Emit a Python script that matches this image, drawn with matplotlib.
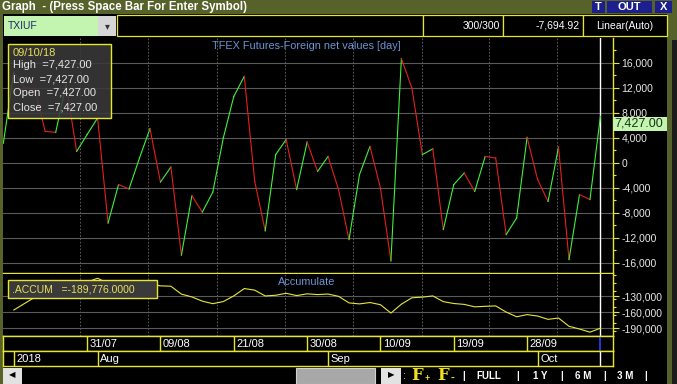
import matplotlib.pyplot as plt
from matplotlib.patches import Rectangle
from matplotlib.ticker import FuncFormatter, MultipleLocator
import numpy as np

plt.rcParams['font.family'] = ['Liberation Sans', 'DejaVu Sans']

# daily foreign net values (contracts), one per trading day
net = [3100, 14500, 12000, 11800, 5000, 4860, 12500, 1800, 4500, 7150,
       -9650, -3500, -4200, 750, 5450, -3100, -700, -14800, -5300, -7900,
       -4700, 3950, 10600, 13800, -3000, -10900, 1300, 3700, -4300, 3300,
       -1400, 1000, -4300, -12300, -1900, 2600, -4050, -15700, 16650, 11950,
       1300, 2200, -10700, -3500, -1650, -4600, 1000, 750, -11500, -8850,
       4050, -2700, -6200, 2500, -15500, -5100, -5900, 7427]

# accumulated value panel (starts on the second day)
accum = [np.nan, -155763, -143763, -131963, -126963, -122103, -109603, -107803,
         -103303, -96153, -105803, -109303, -113503, -112753, -107303, -110403,
         -111103, -125903, -131203, -139103, -143803, -139853, -129253, -115453,
         -118453, -129353, -128053, -124353, -128653, -125353, -126753, -125753,
         -130053, -142353, -144253, -141653, -145703, -161403, -144753, -132803,
         -131503, -129303, -140003, -143503, -145153, -149753, -148753, -148003,
         -159503, -168353, -164303, -167003, -173203, -170703, -186203, -191303,
         -197203, -189776]

date_labels = ["31/07", "09/08", "21/08", "30/08", "10/09", "19/09", "28/09"]
date_idx = [8, 15, 22, 29, 36, 43, 50]
month_labels = ["2018", "Aug", "Sep", "Oct"]
month_idx = [1, 9, 31, 51]
vgrid_idx = [7.3, 13.8, 20.4, 26.9, 33.4, 40.0, 46.4, 52.9]

main_ticks = [-16000, -12000, -8000, -4000, 0, 4000, 8000, 12000, 16000]
accum_ticks = [-190000, -160000, -130000]

W, H = 677, 384
YEL = '#e6e632'
OLIVE = '#56622a'
UP, DOWN = '#3ef23a', '#e4201c'
GRID = '#5a5a5a'


def rect(x0, y0, x1, y1):
    return [x0 / W, 1 - y1 / H, (x1 - x0) / W, (y1 - y0) / H]


def box(ax, x0, y0, x1, y1, fc, ec=None, lw=1, alpha=1, z=1):
    ax.add_patch(Rectangle((x0, y0), x1 - x0, y1 - y0, facecolor=fc,
                           edgecolor=ec if ec else 'none', lw=lw, alpha=alpha, zorder=z))


comma = FuncFormatter(lambda v, p: '{:,.0f}'.format(v))

fig = plt.figure(figsize=(W / 100, H / 100), dpi=100, facecolor='black')

# window chrome behind everything
bg = fig.add_axes([0, 0, 1, 1], zorder=-5)
bg.set_xlim(0, W)
bg.set_ylim(H, 0)
bg.axis('off')
box(bg, 0, 0, W, 14, OLIVE)
box(bg, 0, 14, 3, H, OLIVE)
box(bg, 667, 14, W, H, OLIVE)
box(bg, 672, 40, W, H, '#1c1c1c')
bg.text(2, 7, "Graph  - (Press Space Bar For Enter Symbol)", color='white',
        fontsize=8.3, fontweight='bold', va='center')
for x0, x1, t in [(592, 605, "T"), (607, 652, "OUT"), (655, 672, "X")]:
    box(bg, x0, 1, x1, 13, '#1d1f8e')
    bg.text((x0 + x1) / 2, 7, t, color='white', fontsize=8, fontweight='bold',
            ha='center', va='center')
box(bg, 4, 16, 98, 36, '#c4f5b0')
box(bg, 98, 16, 116, 36, '#d6d6d6')
bg.text(8, 26, "TXIUF", color='#1d2a6a', fontsize=7.5, va='center')
bg.text(107, 26, "\u25be", color='#333333', fontsize=7, ha='center', va='center')
for x0, x1 in [(117, 423), (423, 503), (503, 583), (583, 667)]:
    box(bg, x0, 15, x1, 36, 'black', YEL, lw=0.9)
bg.text(500, 26, "300/300", color='white', fontsize=7.5, ha='right', va='center')
bg.text(580, 26, "-7,694.92", color='white', fontsize=7.5, ha='right', va='center')
bg.text(625, 26, "Linear(Auto)", color='white', fontsize=7.5, ha='center', va='center')
# scroll bar row
box(bg, 3, 368, 22, 384, '#e2e2e2')
bg.text(12, 376, "\u25c0", color='black', fontsize=6, ha='center', va='center')
box(bg, 296, 368, 375, 384, '#a8a8a8', '#d0d0d0', lw=0.8)
box(bg, 381, 368, 401, 384, '#e2e2e2')
bg.text(391, 376, "\u25b6", color='black', fontsize=6, ha='center', va='center')
bg.text(405, 376, ":", color='#d8d8a0', fontsize=8, ha='center', va='center')
bg.text(411, 376, "F", color='#f0e020', fontsize=12, fontweight='bold',
        family='DejaVu Serif', va='center')
bg.text(425, 379, "+", color='#f0e020', fontsize=6.5, fontweight='bold', va='center')
bg.text(437, 376, "F", color='#f0e020', fontsize=12, fontweight='bold',
        family='DejaVu Serif', va='center')
bg.text(451, 378, "-", color='#f0e020', fontsize=8, fontweight='bold', va='center')
for xx, t in [(464, "|"), (489, "FULL"), (518, "|"), (540, "1 Y"), (562, "|"),
              (583, "6 M"), (605, "|"), (625, "3 M"), (646, "|")]:
    bg.text(xx, 376, t, color='white', fontsize=7, fontweight='bold',
            ha='center', va='center')

XL = (-0.03, 58.2)
x = np.arange(len(net))

# main panel
ax = fig.add_axes(rect(3, 38, 613, 273))
ax.set_facecolor('black')
ax.set_xlim(*XL)
ax.set_ylim(-17650, 19950)
for i in range(len(net) - 1):
    c = UP if net[i + 1] >= net[i] else DOWN
    ax.plot(x[i:i + 2], net[i:i + 2], color=c, lw=0.8, zorder=3)
ax.axvline(57, color='white', lw=1, zorder=2)
ax.set_yticks(main_ticks)
ax.yaxis.set_major_formatter(comma)
ax.yaxis.set_minor_locator(MultipleLocator(2000))
ax.set_xticks(vgrid_idx)
ax.yaxis.grid(True, color=GRID, lw=0.8)
ax.xaxis.grid(True, color='#6a6a6a', lw=0.6, ls=(0, (2, 2)))
ax.text(0.498, 0.965, "TFEX Futures-Foreign net values [day]", color='#6b95d6',
        fontsize=7.8, ha='center', va='center', transform=ax.transAxes)

# accumulate panel
ac = fig.add_axes(rect(3, 274, 613, 336))
ac.set_facecolor('black')
ac.set_xlim(*XL)
ac.set_ylim(-204400, -88200)
ac.plot(x, accum, color='#e8e63a', lw=0.8, zorder=3)
ac.axvline(57, color='white', lw=1, zorder=2)
ac.set_yticks(accum_ticks)
ac.yaxis.set_major_formatter(comma)
ac.yaxis.set_minor_locator(MultipleLocator(15000))
ac.set_xticks(vgrid_idx)
ac.yaxis.grid(True, color=GRID, lw=0.8)
ac.xaxis.grid(True, color='#6a6a6a', lw=0.6, ls=(0, (2, 2)))
ac.text(0.498, 0.87, "Accumulate", color='#6b95d6', fontsize=7.8,
        ha='center', va='center', transform=ac.transAxes)

for a in (ax, ac):
    a.yaxis.tick_right()
    a.tick_params(axis='y', which='major', length=4, width=0.8, color=YEL,
                  labelcolor='#e8e8e8', labelsize=7.5, pad=2)
    a.tick_params(axis='y', which='minor', length=2.5, width=0.8, color=YEL)
    a.tick_params(axis='x', length=0, labelbottom=False)
    for s in ('left', 'top'):
        a.spines[s].set_visible(False)
    for s in ('right', 'bottom'):
        a.spines[s].set_color(YEL)
        a.spines[s].set_linewidth(1)

# date row
dr = fig.add_axes(rect(3, 336, 613, 351))
dr.set_facecolor('black')
dr.set_xlim(*XL)
dr.set_ylim(0, 1)
for i, lab in zip(date_idx, date_labels):
    dr.axvline(i, color=YEL, lw=1)
    dr.text(i + 0.25, 0.45, lab, color='white', fontsize=8, va='center')
dr.axvline(57, color='#2a3cff', lw=1.2)

# month row
mr = fig.add_axes(rect(3, 351, 613, 366))
mr.set_facecolor('black')
mr.set_xlim(*XL)
mr.set_ylim(0, 1)
for i, lab in zip(month_idx, month_labels):
    mr.axvline(i, color=YEL, lw=1)
    mr.text(i + 0.25, 0.45, lab, color='white', fontsize=8, va='center')
mr.axvline(57, color='white', lw=1)

for a in (dr, mr):
    a.set_xticks([])
    a.set_yticks([])
    for s in a.spines.values():
        s.set_color(YEL)
        s.set_linewidth(1)

# foreground overlays: data windows and last value tag
fg = fig.add_axes([0, 0, 1, 1], zorder=10)
fg.set_xlim(0, W)
fg.set_ylim(H, 0)
fg.axis('off')
box(fg, 8, 44, 111, 118, '#3a3a3a', alpha=0.88)
box(fg, 8, 44, 111, 118, 'none', YEL, lw=1)
fg.text(13, 52.5, "09/10/18", color='#e8e05a', fontsize=8, va='center')
for yy, t in [(65, "High  =7,427.00"), (79, "Low  =7,427.00"),
              (93, "Open  =7,427.00"), (107, "Close  =7,427.00")]:
    fg.text(13, yy, t, color='#e6e6e6', fontsize=8, va='center')
box(fg, 8, 280, 157, 298, '#3a3a3a', YEL, lw=1)
fg.text(12, 289, ".ACCUM   =-189,776.0000", color='#e8e05a', fontsize=7.5,
        va='center')
box(fg, 613, 117, 667, 131, '#c4f5b0')
fg.text(614, 124, "7,427.00", color='#143214', fontsize=9, va='center')

fig.savefig("out.png", dpi=100, facecolor='black')
